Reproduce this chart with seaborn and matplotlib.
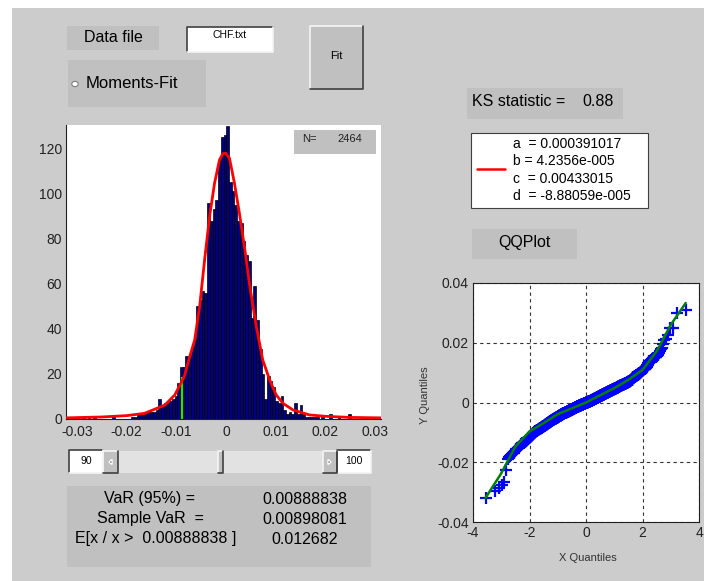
import numpy as np
import pandas as pd
import matplotlib
matplotlib.use("Agg")
import matplotlib.pyplot as plt
import seaborn as sns
from matplotlib.patches import Rectangle, Circle, Polygon
from matplotlib.lines import Line2D
from statistics import NormalDist

# ---------------- data ----------------
hist_min, hist_max, n_bins = -0.0322, 0.0312, 116
bin_counts = [1, 0, 0, 0, 1, 0, 1, 0, 1, 0,
              1, 0, 0, 0, 0, 0, 0, 1, 0, 0,
              0, 0, 0, 0, 1, 1, 2, 2, 2, 2,
              3, 3, 3, 4, 9, 6, 7, 7, 8, 9,
              10, 16, 23, 23, 28, 28, 32, 35, 50, 53,
              57, 56, 96, 88, 93, 97, 115, 125, 126, 130,
              105, 101, 95, 88, 87, 79, 73, 70, 45, 59,
              44, 31, 20, 9, 19, 17, 14, 8, 7, 10,
              4, 2, 3, 2, 7, 2, 6, 2, 1, 1,
              1, 1, 1, 0, 1, 0, 0, 2, 0, 0,
              1, 0, 0, 0, 2, 0, 0, 0, 0, 0,
              0, 0, 0, 1, 0, 1]

fit_x = [-0.0322, -0.025, -0.020, -0.0164, -0.0144, -0.0123, -0.0103, -0.0084,
         -0.0073, -0.0063, -0.0053, -0.0043, -0.0033, -0.0023, -0.0013, -0.0006,
         -0.0001, 0.0007, 0.0017, 0.0027, 0.0038, 0.0048, 0.0061, 0.0074, 0.0088,
         0.0101, 0.0115, 0.0135, 0.0168, 0.020, 0.025, 0.0312]
fit_y = [0.5, 0.9, 1.5, 2.5, 4.3, 6.2, 10.7, 18.8,
         27.7, 35.1, 50.0, 70.7, 89.9, 104.7, 115.1, 117.8,
         118.0, 115.8, 104.7, 91.4, 75.1, 58.8, 41.1, 26.2, 17.3,
         10.7, 6.9, 4.0, 1.8, 1.2, 0.7, 0.5]

var_level = -0.00888838
var_height = 18.8

qq_fit_x = [-3.56, -3.0, -2.5, -2.0, -1.5, -1.0, 0.0, 1.0, 1.5, 2.0, 2.5, 3.0, 3.53]
qq_fit_y = [-0.032, -0.0237, -0.0147, -0.0097, -0.0069, -0.0039, 0.0, 0.0048, 0.0076,
            0.0109, 0.0171, 0.026, 0.0333]

hist_xticks = [-0.03, -0.02, -0.01, 0, 0.01, 0.02, 0.03]
hist_xticklabels = ["-0.03", "-0.02", "-0.01", "0", "0.01", "0.02", "0.03"]
hist_yticks = [0, 20, 40, 60, 80, 100, 120]
qq_xticks = [-4, -2, 0, 2, 4]
qq_xticklabels = ["-4", "-2", "0", "2", "4"]
qq_yticks = [-0.04, -0.02, 0, 0.02, 0.04]
qq_yticklabels = ["-0.04", "-0.02", "0", "0.02", "0.04"]

param_lines = ["a  = 0.000391017", "b = 4.2356e-005", "c  = 0.00433015", "d  = -8.88059e-005"]
var_labels = ["VaR (95%) =", "Sample VaR  =", "E[x / x >  0.00888838 ]"]
var_values = ["0.00888838", "0.00898081", "0.012682"]
ks_value = "0.88"
n_obs = "2464"

# ---------------- figure ----------------
sns.set_style("white")
plt.rcParams["font.family"] = ["Liberation Sans", "DejaVu Sans"]
plt.rcParams["axes.unicode_minus"] = False

W, H = 704, 581
BG = "#cccccc"
PANEL = "#c0c0c0"
fig = plt.figure(figsize=(W / 100, H / 100), dpi=100, facecolor=BG)


def fx(x):
    return x / W


def fy(y):
    return 1 - y / H


def rect(x0, y0, x1, y1, fc, ec="none", lw=0.0, z=0):
    fig.patches.append(Rectangle((fx(x0), fy(y1)), fx(x1 - x0), (y1 - y0) / H,
                                 transform=fig.transFigure, facecolor=fc,
                                 edgecolor=ec, linewidth=lw, zorder=z))


def line(xs, ys, color, lw=1.0, z=2):
    fig.lines.append(Line2D([fx(v) for v in xs], [fy(v) for v in ys],
                            transform=fig.transFigure, color=color, lw=lw, zorder=z))


def bevel(x0, y0, x1, y1, raised=True):
    light, dark = ("#f4f4f4", "#404040") if raised else ("#404040", "#f4f4f4")
    line([x0, x0, x1], [y1, y0, y0], light, 1.2)
    line([x0, x1, x1], [y1, y1, y0], dark, 1.2)


def text(x, y, s, size=11, ha="left", va="center", color="black", z=10):
    fig.text(fx(x), fy(y), s, fontsize=size, ha=ha, va=va, color=color, zorder=z)


# white strips of the window frame
rect(0, 0, W, 8, "white")
rect(0, 0, 12, H, "white")

# top controls
rect(67, 26, 159, 50, PANEL)
text(113, 38, "Data file", 11.5, ha="center")
rect(187, 27, 273, 52, "white")
bevel(187, 27, 273, 52, raised=False)
text(230, 35, "CHF.txt", 7.5, ha="center")
rect(310, 26, 363, 89, PANEL)
bevel(310, 26, 363, 89, raised=True)
text(336.5, 56, "Fit", 8, ha="center")
rect(68, 60, 206, 107, PANEL)
fig.patches.append(Circle((fx(75), fy(84)), 3.2 / W, transform=fig.transFigure,
                          facecolor="white", edgecolor="#808080", lw=0.8))
text(86, 84, "Moments-Fit", 12)

# KS statistic, parameters, QQPlot label
rect(467, 88, 623, 119, PANEL)
text(472, 102, "KS statistic =", 11.5)
text(582, 102, ks_value, 11.5)
rect(471, 133, 648, 208, "white", ec="#404040", lw=0.8)
line([477, 505], [169, 169], "red", 1.8)
for i, s in enumerate(param_lines):
    text(513, 144 + i * 17.4, s, 10)
rect(472, 229, 577, 259, PANEL)
text(524.5, 243, "QQPlot", 11.5, ha="center")

# slider
rect(69, 450, 103, 473, "white")
bevel(69, 450, 103, 473, raised=False)
text(86, 461, "90", 7.5, ha="center")
rect(337, 450, 371, 473, "white")
bevel(337, 450, 371, 473, raised=False)
text(354, 461, "100", 7.5, ha="center")
rect(103, 451, 337, 473, "#e2e2e2")
for (a, b) in [(103, 118), (323, 337), (218, 223)]:
    rect(a, 451, b, 473, PANEL)
    bevel(a, 451, b, 473, raised=True)
fig.patches.append(Polygon(
    [(fx(109), fy(462)), (fx(112), fy(459.5)), (fx(112), fy(464.5))],
    closed=True, transform=fig.transFigure, facecolor="black"))
fig.patches.append(Polygon(
    [(fx(331), fy(462)), (fx(328), fy(459.5)), (fx(328), fy(464.5))],
    closed=True, transform=fig.transFigure, facecolor="black"))

# VaR panel
rect(67, 486, 371, 567, PANEL)
for i in range(3):
    yy = 499 + i * 20
    if i < 2:
        text(150, yy, var_labels[i], 11.5, ha="center")
    else:
        text(75, yy, var_labels[i], 11.5)
    text(305, yy, var_values[i], 11.5, ha="center")

# ---------------- histogram ----------------
edges = np.linspace(hist_min, hist_max, n_bins + 1)
centers = (edges[:-1] + edges[1:]) / 2
hist_df = pd.DataFrame({"ret": centers, "count": bin_counts})
fit_df = pd.DataFrame({"x": fit_x, "y": fit_y})

ax = fig.add_axes([fx(66), fy(419), fx(381 - 66), (419 - 125) / H])
sns.histplot(data=hist_df, x="ret", weights="count", bins=n_bins,
             binrange=(hist_min, hist_max), ax=ax,
             color="#000080", edgecolor="black", linewidth=0.5, alpha=1.0)
ax.vlines(var_level, 0, var_height, colors="#20e020", lw=1.6, zorder=3)
sns.lineplot(data=fit_df, x="x", y="y", ax=ax, color="red", lw=2.0, zorder=4)
ax.set_xlim(hist_min, hist_max)
ax.set_ylim(0, 130.5)
ax.set_xticks(hist_xticks)
ax.set_xticklabels(hist_xticklabels)
ax.set_yticks(hist_yticks)
ax.set_xlabel("")
ax.set_ylabel("")
ax.set_facecolor("white")
for s in ["top", "right"]:
    ax.spines[s].set_visible(False)
for s in ["left", "bottom"]:
    ax.spines[s].set_color("#202020")
    ax.spines[s].set_linewidth(0.8)
ax.tick_params(direction="in", length=3, width=0.6, labelsize=10,
               labelcolor="#222222", pad=3)
ax.tick_params(axis="x", pad=4)

# N= box inside histogram (figure coords)
rect(294, 130, 376, 154, PANEL, z=5)
text(302, 139, "N=", 8, color="#222222")
text(337, 139, n_obs, 8, color="#222222")

# ---------------- QQ plot ----------------
sample = []
width = edges[1] - edges[0]
for lo, c in zip(edges[:-1], bin_counts):
    if c:
        sample.extend(lo + (np.arange(c) + 0.5) / c * width)
sample = np.sort(np.array(sample))
n = len(sample)
nd = NormalDist()
theo = np.array([nd.inv_cdf((i + 0.5) / n) for i in range(n)])
qq_df = pd.DataFrame({"theo": theo, "emp": sample})
qqfit_df = pd.DataFrame({"x": qq_fit_x, "y": qq_fit_y})

ax2 = fig.add_axes([fx(473), fy(522), fx(699 - 473), (522 - 283) / H])
ax2.set_facecolor("white")
sns.scatterplot(data=qq_df, x="theo", y="emp", ax=ax2, marker="+", s=75,
                color="#0000ff", linewidth=1.6, zorder=3)
sns.lineplot(data=qqfit_df, x="x", y="y", ax=ax2, color="#008000", lw=1.8,
             zorder=4, sort=False)
ax2.set_xlim(-4, 4)
ax2.set_ylim(-0.04, 0.04)
ax2.set_xticks(qq_xticks)
ax2.set_xticklabels(qq_xticklabels)
ax2.set_yticks(qq_yticks)
ax2.set_yticklabels(qq_yticklabels)
ax2.grid(True, linestyle=(0, (3, 3)), color="#333333", lw=0.8)
ax2.set_axisbelow(True)
for s in ax2.spines.values():
    s.set_visible(True)
    s.set_color("#202020")
    s.set_linewidth(0.8)
ax2.tick_params(direction="in", length=3, width=0.6, labelsize=10,
                labelcolor="#222222", pad=3)
ax2.set_xlabel("")
ax2.set_ylabel("")
text(588, 558, "X Quantiles", 8, ha="center", color="#333333")
fig.text(fx(425), fy(395), "Y Quantiles", fontsize=8, rotation=90,
         ha="center", va="center", color="#333333")

fig.savefig("out.png", dpi=100, facecolor=BG)
